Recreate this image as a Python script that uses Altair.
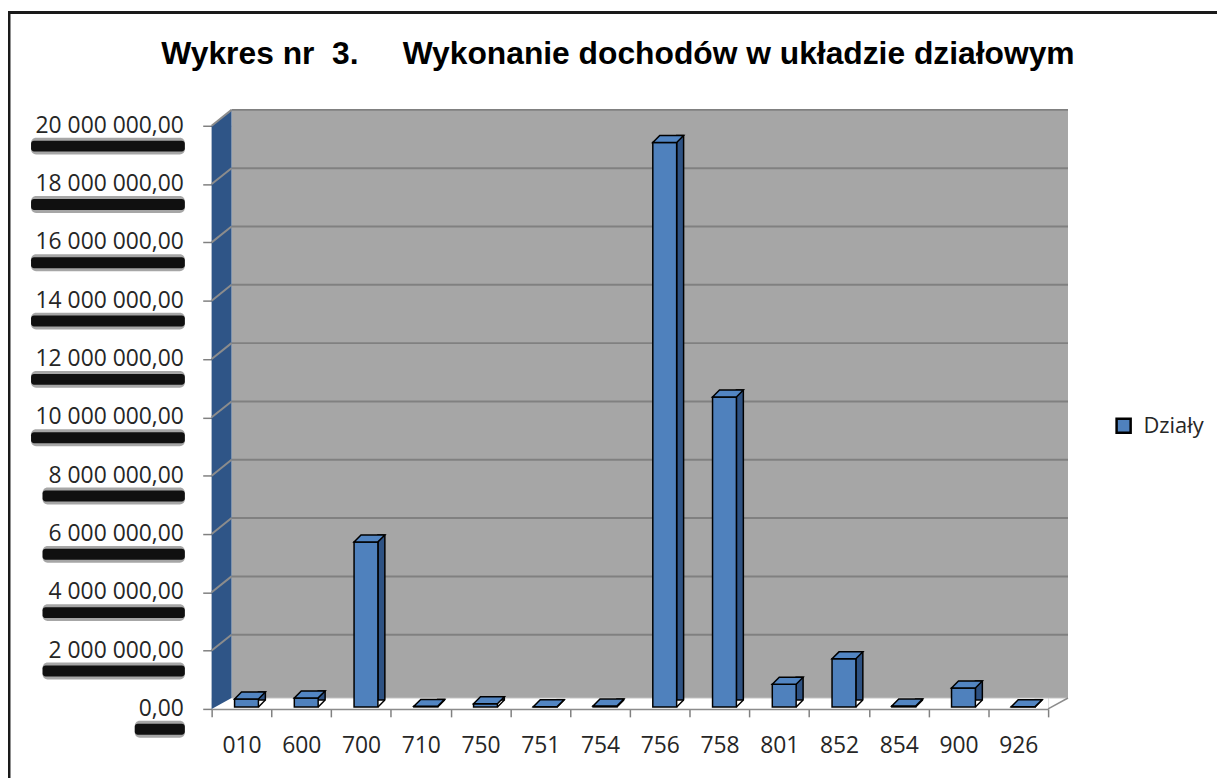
import altair as alt
import pandas as pd

codes = ["010", "600", "700", "710", "750", "751", "754", "756", "758", "801", "852", "854", "900", "926"]
values = [270000, 310000, 5660000, 20000, 110000, 10000, 30000, 19360000, 10630000, 780000, 1650000, 30000, 650000, 10000]
series_name = "Działy"
y_ticks = [0, 2000000, 4000000, 6000000, 8000000, 10000000, 12000000, 14000000, 16000000, 18000000, 20000000]
y_tick_labels = ["0,00", "2 000 000,00", "4 000 000,00", "6 000 000,00", "8 000 000,00", "10 000 000,00",
                 "12 000 000,00", "14 000 000,00", "16 000 000,00", "18 000 000,00", "20 000 000,00"]
title_text = "Wykres nr\u00a0\u00a03.\u00a0\u00a0\u00a0\u00a0\u00a0Wykonanie dochodów w układzie działowym"

W, H = 842, 587
DX, DY = 20, 16
FLOOR = 11
BW = 24        # bar front width
BD = 7         # bar depth
BX = 5         # bar shift right inside band
BY = 2         # bar base above axis

bars = pd.DataFrame({"code": codes, "value": values, "series": [series_name] * len(codes)})
ticks = pd.DataFrame({"v": y_ticks, "label": y_tick_labels})
one = pd.DataFrame({"k": [0]})

yscale = alt.Scale(domain=[0, 20000000], nice=False, zero=True)
yaxis = alt.Axis(values=y_ticks, labels=False, domain=False, ticks=True, tickSize=9,
                 tickColor="#808080", tickWidth=1.5, grid=False, title=None)
xaxis = alt.Axis(title=None, labelFont="Open Sans", labelFontSize=23, labelColor="#262626",
                 labelPadding=18, tickBand="extent", tickSize=8, tickColor="#808080", tickWidth=1.5,
                 domainColor="#8c8c8c", domainWidth=1.5, labelAngle=0)
xenc = alt.X("code:N", sort=codes, scale=alt.Scale(paddingInner=0, paddingOuter=0), axis=xaxis)


def yv(field):
    return alt.Y(field, scale=yscale, axis=yaxis)


def poly(points, s=20.0):
    pts = ["{:.4f},{:.4f}".format(px / s, py / s) for px, py in points]
    return "M" + " L".join(pts) + " Z"


# back wall
wall = alt.Chart(one).mark_rect(fill="#A6A6A6").encode(
    x=alt.value(DX), x2=alt.value(W + DX), y=alt.value(-DY), y2=alt.value(H - FLOOR))

grid = alt.Chart(ticks[ticks.v > 0]).mark_rule(color="#808080", strokeWidth=2, yOffset=-DY).encode(
    y=yv("v:Q"), x=alt.value(DX), x2=alt.value(W + DX))

# left wall (custom polygon symbol)
s = 400.0
leftwall = alt.Chart(one).mark_point(
    shape=poly([(0, 0), (DX, -DY), (DX, H - FLOOR), (0, H)], s), size=(2 * s) ** 2,
    filled=True, fill="#2F5587", opacity=1, strokeWidth=0).encode(x=alt.value(0), y=alt.value(0))

slants = alt.Chart(ticks[ticks.v > 0]).mark_rule(color="#8c8c8c", strokeWidth=2, y2Offset=-DY).encode(
    y=yv("v:Q"), y2=alt.Y2("v"), x=alt.value(0), x2=alt.value(DX))

floor_edge = alt.Chart(one).mark_rule(color="#8c8c8c", strokeWidth=1.5).encode(
    x=alt.value(W), x2=alt.value(W + DX), y=alt.value(H), y2=alt.value(H - FLOOR))
floor_back = alt.Chart(one).mark_rule(color="#bfbfbf", strokeWidth=1).encode(
    x=alt.value(DX), x2=alt.value(W + DX), y=alt.value(H - FLOOR))

# bars (pseudo 3D): side face, floor notch, front face, top face
side = alt.Chart(bars).mark_bar(size=BD, xOffset=BX + BW / 2 + BD / 2, yOffset=-BY - BD, y2Offset=-BY,
                                color="#2E5283", stroke="black", strokeWidth=1.5).encode(
    x=xenc, y=yv("value:Q"))
notch = alt.Chart(bars).mark_point(
    shape=poly([(BW / 2 - 0.2, 1.2), (BW / 2 + BD + 1.2, -BD - 0.2), (BW / 2 + BD + 1.2, 1.2)]),
    size=1600, filled=True, fill="white", opacity=1, strokeWidth=0, xOffset=BX, yOffset=-BY).encode(
    x=xenc, y=alt.value(H))
notch_line = alt.Chart(bars).mark_point(
    shape="M{:.4f},0 L{:.4f},{:.4f}".format(BW / 2 / 20, (BW / 2 + BD) / 20, -BD / 20),
    size=1600, filled=False, stroke="black", strokeWidth=1.5, opacity=1, xOffset=BX, yOffset=-BY).encode(
    x=xenc, y=alt.value(H))
front = alt.Chart(bars).mark_bar(size=BW, xOffset=BX, yOffset=-BY, y2Offset=-BY,
                                 stroke="black", strokeWidth=1.5).encode(
    x=xenc, y=yv("value:Q"),
    color=alt.Color("series:N", scale=alt.Scale(range=["#4F81BD"]),
                    legend=alt.Legend(orient="none", legendX=907, legendY=291, title=None,
                                      symbolType="square", symbolSize=200, symbolStrokeColor="black",
                                      symbolStrokeWidth=2.5, symbolFillColor="#4F81BD",
                                      labelFont="Open Sans", labelFontSize=22, labelColor="#262626",
                                      padding=0, labelOffset=9)))
top = alt.Chart(bars).mark_point(
    shape=poly([(-BW / 2, 0), (BW / 2, 0), (BW / 2 + BD, -BD), (-BW / 2 + BD, -BD)]),
    size=1600, filled=True, fill="#5285C2", stroke="black", strokeWidth=1.5, opacity=1,
    xOffset=BX, yOffset=-BY).encode(x=xenc, y=yv("value:Q"))

# y labels with their drop shadow
lab_base = alt.Chart(ticks).transform_calculate(
    xs="-31 - length(datum.label) * 11.6", xe="-27")
shadow_soft = lab_base.mark_rect(fill="black", opacity=0.35, cornerRadius=5, yOffset=12, y2Offset=29).encode(
    x=alt.X("xs:Q", scale=None), x2=alt.X2("xe"), y=yv("v:Q"), y2=alt.Y2("v"))
shadow_core = lab_base.mark_rect(fill="black", opacity=0.9, cornerRadius=3, yOffset=15, y2Offset=26).encode(
    x=alt.X("xs:Q", scale=None), x2=alt.X2("xe"), y=yv("v:Q"), y2=alt.Y2("v"))
labels = alt.Chart(ticks).mark_text(align="right", baseline="middle", font="Open Sans", fontSize=23,
                                    fill="#262626").encode(
    y=yv("v:Q"), x=alt.value(-28), text="label:N")

title = alt.Chart(one).mark_text(align="center", baseline="alphabetic", font="Liberation Sans",
                                 fontWeight="bold", fontSize=32, fill="black").encode(
    x=alt.value(409), y=alt.value(-62), text=alt.value(title_text))

frame_left = alt.Chart(one).mark_rule(color="#1a1a1a", strokeWidth=3).encode(
    x=alt.value(-204), y=alt.value(-114), y2=alt.value(H + 70))
frame_top = alt.Chart(one).mark_rule(color="#1a1a1a", strokeWidth=3).encode(
    x=alt.value(-205), x2=alt.value(W + 175), y=alt.value(-114))

chart = alt.layer(
    wall, floor_back, grid, leftwall, slants, floor_edge,
    side, notch, notch_line, front, top,
    shadow_soft, shadow_core, labels, title, frame_left, frame_top
).properties(
    width=W, height=H,
    autosize=alt.AutoSizeParams(type="none"),
    padding={"left": 205, "top": 116, "right": 170, "bottom": 67},
).configure_view(stroke=None).configure(background="white")

chart.save("out.html", embed_options={"renderer": "svg", "actions": False})
